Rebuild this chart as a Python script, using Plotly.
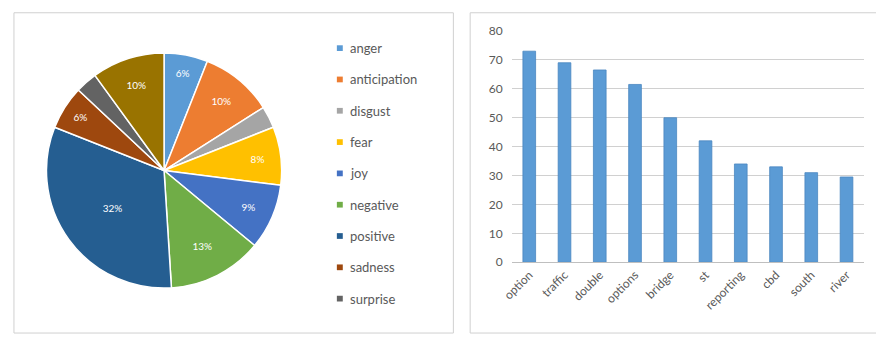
import plotly.graph_objects as go

# Emotion distribution (percent of words per NRC emotion)
emotions = ["anger", "anticipation", "disgust", "fear", "joy",
            "negative", "positive", "sadness", "surprise", "trust"]
emotion_pct = [6, 10, 3, 8, 9, 13, 32, 6, 3, 10]
emotion_colors = ["#5B9BD5", "#ED7D31", "#A5A5A5", "#FFC000", "#4472C4",
                  "#70AD47", "#255E91", "#9E480E", "#636363", "#997300"]
legend_entries = emotions[:9]

# Most frequent terms
terms = ["option", "traffic", "double", "options", "bridge",
         "st", "reporting", "cbd", "south", "river"]
term_counts = [73, 69, 66.5, 61.5, 50, 42, 34, 33, 31, 29.5]
y_ticks = [0, 10, 20, 30, 40, 50, 60, 70, 80]

W, H = 876, 341
FONT = "Lato, 'Open Sans', sans-serif"
GREY_TEXT = "#595959"


def px_x(x):
    return x / W


def px_y(y):
    return 1 - y / H


fig = go.Figure()

# Pie of emotions (small slices left unlabeled)
texts = [f"{v}%" if v >= 5 else "" for v in emotion_pct]
fig.add_trace(go.Pie(
    labels=emotions,
    values=emotion_pct,
    sort=False,
    direction="clockwise",
    rotation=0,
    marker=dict(colors=emotion_colors, line=dict(color="white", width=1.5)),
    text=texts,
    texttemplate="%{text}",
    textposition="inside",
    insidetextorientation="horizontal",
    insidetextfont=dict(color="white", size=10, family=FONT),
    domain=dict(x=[px_x(32), px_x(278)], y=[px_y(293), px_y(47)]),
    showlegend=False,
    hoverinfo="label+percent",
))

# Bar chart of term counts
fig.add_trace(go.Bar(
    x=terms,
    y=term_counts,
    marker=dict(color="#5B9BD5", line=dict(color="#4A86C0", width=0.8)),
    xaxis="x", yaxis="y",
    showlegend=False,
))

fig.update_layout(
    width=W, height=H,
    margin=dict(l=0, r=0, t=0, b=0),
    paper_bgcolor="white",
    plot_bgcolor="white",
    bargap=0.64,
    font=dict(family=FONT, color=GREY_TEXT),
    xaxis=dict(
        domain=[px_x(507), px_x(864)],
        anchor="y",
        tickangle=-45,
        tickfont=dict(size=12, color=GREY_TEXT),
        showline=True, linecolor="#BFBFBF", linewidth=1,
        ticks="", showgrid=False,
    ),
    yaxis=dict(
        domain=[px_y(266), px_y(24)],
        anchor="x",
        range=[0, 80],
        tickvals=y_ticks,
        tickfont=dict(size=12, color=GREY_TEXT),
        showgrid=True, gridcolor="#D0D0D0", gridwidth=1,
        zeroline=False, showline=False, ticks="",
        ticklabelstandoff=8,
    ),
)

# Panel frames
for x0, x1 in [(3, 448), (465, 880)]:
    fig.add_shape(type="rect", xref="paper", yref="paper",
                  x0=px_x(x0), x1=px_x(x1), y0=px_y(340), y1=px_y(5),
                  line=dict(color="#D0D0D0", width=1), fillcolor="rgba(0,0,0,0)",
                  layer="below")

# Hand-drawn legend for the pie
for i, name in enumerate(legend_entries):
    cy = 42 + 32.75 * i
    fig.add_shape(type="rect", xref="paper", yref="paper",
                  x0=px_x(330), x1=px_x(336), y0=px_y(cy + 3), y1=px_y(cy - 3),
                  line=dict(width=0), fillcolor=emotion_colors[i])
    fig.add_annotation(xref="paper", yref="paper", x=px_x(341), y=px_y(cy),
                       text=name, showarrow=False, xanchor="left", yanchor="middle",
                       font=dict(size=13, color=GREY_TEXT, family=FONT))

fig.write_html("out.html")
